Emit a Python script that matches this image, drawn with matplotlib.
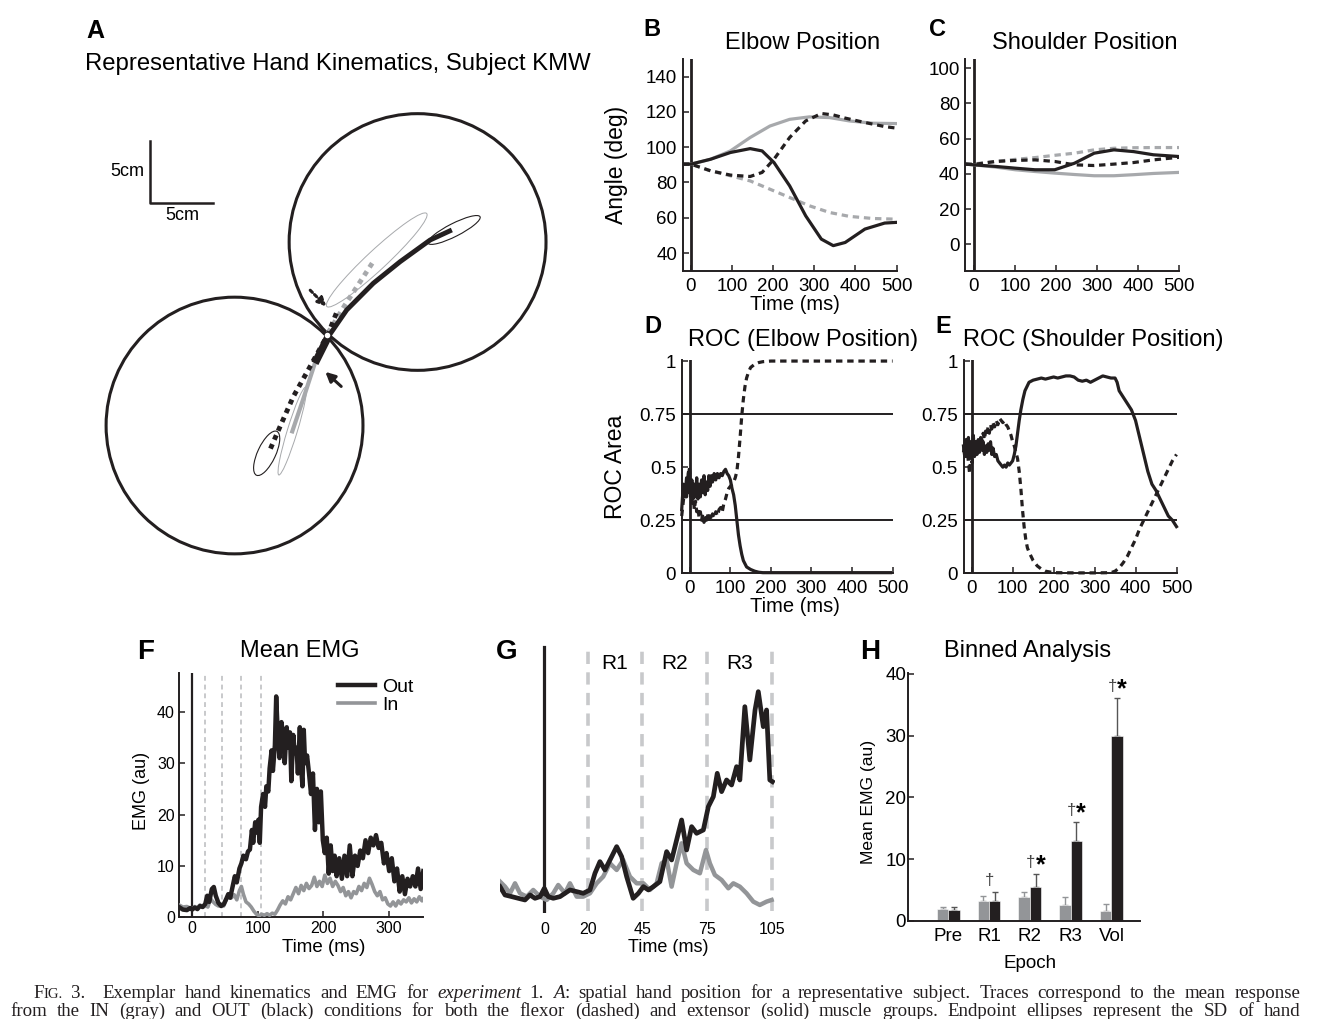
import numpy as np
import matplotlib.pyplot as plt
from matplotlib.patches import Circle, Ellipse

W, H = 1330, 1019
plt.rcParams['font.family'] = ['Liberation Sans', 'DejaVu Sans']

BLACK = '#231f20'
LGRAY = '#a7a9ac'
MGRAY = '#939598'

# ---------------- panel A (cm, origin = start position)
circle_centers = [(-7.45, -7.3), (7.3, 7.5)]
circle_radius = 10.35
out_ext_x = [-0.97, 0.10, 1.59, 3.73, 5.89, 8.31, 10.06]
out_ext_y = [-2.28, -0.14, 2.02, 4.17, 5.91, 7.66, 8.47]
in_ext_x = [-0.97, -1.94, -2.85]
in_ext_y = [-2.26, -5.24, -7.93]
out_flex_x = [0.75, 0.10, -1.37, -2.72, -3.79, -4.60]
out_flex_y = [1.75, 0.10, -2.56, -4.98, -7.40, -9.27]
in_flex_x = [0.08, 1.45, 2.50, 3.71]
in_flex_y = [0.16, 2.42, 4.03, 5.89]
# ellipses: center x, center y, major, minor, angle
ell_gray = [(4.01, 6.05, 11.0, 1.6, 43), (-2.80, -7.75, 7.4, 0.8, 73)]
ell_black = [(10.24, 8.47, 4.7, 1.05, 27), (-4.86, -9.54, 3.9, 1.45, 65)]

# ---------------- panel B / C (deg)
b_t = [-20, 0, 48, 96, 144, 192, 240, 288, 337, 385, 442, 500]
b_in_ext = [90.4, 90.4, 93.2, 97.9, 105.5, 112.0, 115.8, 117.2, 116.8, 114.9, 113.6, 113.4]
b_in_flex = [90.4, 90.4, 86.6, 83.8, 80.9, 76.2, 71.5, 66.8, 63.0, 60.8, 59.6, 59.2]
b_out_t = [-20, 0, 48, 96, 144, 173, 202, 240, 279, 317, 346, 375, 423, 471, 500]
b_out_ext = [90.4, 90.4, 93.2, 97.0, 99.2, 97.9, 91.3, 78.1, 61.1, 47.9, 44.2, 46.0, 53.6, 57.0, 57.4]
b_out_flex = [90.4, 90.4, 86.6, 84.2, 83.4, 85.7, 93.2, 105.5, 114.9, 119.1, 118.3, 116.5, 114.0, 111.7, 110.8]

c_t = [-20, 0, 53, 101, 149, 197, 245, 293, 341, 389, 437, 500]
c_in_ext = [45.5, 45.1, 43.8, 42.3, 41.3, 40.4, 39.6, 38.9, 38.9, 39.5, 40.2, 40.8]
c_out_ext = [45.5, 45.1, 44.2, 43.2, 42.3, 42.3, 46.0, 51.7, 53.6, 52.6, 50.8, 49.8]
c_out_flex = [45.5, 45.3, 47.0, 47.6, 47.9, 47.0, 45.1, 44.7, 45.5, 46.4, 47.9, 49.4]
c_in_flex = [45.5, 45.6, 47.0, 48.2, 49.2, 50.5, 51.7, 53.6, 54.5, 54.8, 54.9, 54.9]

# ---------------- panel D / E (ROC area)
d_ext_t = [-20, -16, -12, -8, -4, -1, 2, 5, 8, 11, 14, 17, 20, 23, 26, 29, 32, 35, 38, 41,
           44, 47, 50, 53, 56, 60, 64, 68, 72, 76, 80, 84, 88, 92, 96, 100, 104, 108, 112, 116,
           120, 124, 128, 132, 136, 140, 150, 160, 170, 180, 250, 350, 450, 495]
d_ext = [0.30, 0.42, 0.36, 0.45, 0.38, 0.49, 0.36, 0.44, 0.35, 0.42, 0.36, 0.45, 0.35, 0.42, 0.36, 0.44, 0.38, 0.46, 0.37, 0.43,
         0.39, 0.46, 0.41, 0.46, 0.43, 0.47, 0.44, 0.47, 0.45, 0.47, 0.46, 0.48, 0.49, 0.47, 0.46, 0.44, 0.40, 0.37, 0.32, 0.25,
         0.18, 0.13, 0.09, 0.06, 0.045, 0.03, 0.018, 0.01, 0.005, 0.003, 0.003, 0.003, 0.003, 0.003]
d_flex_t = [-20, -16, -12, -8, -4, -1, 2, 5, 8, 11, 14, 17, 20, 23, 26, 29, 32, 35, 38, 41,
            44, 47, 50, 53, 56, 60, 64, 68, 72, 76, 80, 84, 88, 92, 96, 100, 104, 108, 112, 116,
            120, 124, 128, 132, 136, 140, 145, 150, 160, 170, 180, 200, 350, 500]
d_flex = [0.27, 0.34, 0.40, 0.36, 0.47, 0.50, 0.40, 0.33, 0.38, 0.30, 0.34, 0.29, 0.31, 0.26, 0.29, 0.25, 0.28, 0.24, 0.27, 0.25,
          0.28, 0.24, 0.27, 0.25, 0.28, 0.26, 0.29, 0.27, 0.30, 0.31, 0.29, 0.33, 0.35, 0.38, 0.40, 0.41, 0.42, 0.43, 0.45, 0.48,
          0.55, 0.64, 0.74, 0.82, 0.88, 0.92, 0.95, 0.97, 0.985, 0.993, 0.997, 1.0, 1.0, 1.0]

e_t = [-20, -17, -14, -11, -8, -5, -2, 1, 4, 7, 10, 13, 16, 19, 22, 25, 28, 31, 34, 37,
       40, 43, 46, 49, 52, 56, 60, 64, 68, 72, 76, 80, 84, 88, 92, 96, 100, 104, 108, 112,
       116, 120]
e_ext_a = [0.60, 0.55, 0.63, 0.56, 0.64, 0.54, 0.62, 0.57, 0.65, 0.55, 0.62, 0.56, 0.63, 0.57, 0.64, 0.58, 0.62, 0.56, 0.60, 0.57,
           0.61, 0.58, 0.62, 0.56, 0.59, 0.55, 0.56, 0.53, 0.52, 0.51, 0.50, 0.51, 0.50, 0.52, 0.51, 0.52, 0.53, 0.56, 0.60, 0.66,
           0.72, 0.77]
e_ext_t2 = [125, 130, 135, 140, 150, 160, 170, 180, 190, 200, 210, 220, 230, 240, 250, 260, 270, 280, 290, 300,
            310, 320, 330, 340, 350, 355, 360, 370, 380, 390, 400, 410, 420, 430, 440, 450, 460, 470, 480, 490, 500]
e_ext_b = [0.82, 0.86, 0.88, 0.90, 0.91, 0.915, 0.92, 0.915, 0.92, 0.925, 0.92, 0.925, 0.93, 0.93, 0.925, 0.91, 0.905, 0.91, 0.90, 0.91,
           0.92, 0.93, 0.925, 0.92, 0.92, 0.90, 0.86, 0.83, 0.80, 0.77, 0.72, 0.64, 0.56, 0.48, 0.42, 0.39, 0.35, 0.31, 0.27, 0.25, 0.22]
e_flex_a = [0.57, 0.62, 0.55, 0.60, 0.52, 0.47, 0.56, 0.52, 0.60, 0.56, 0.61, 0.58, 0.62, 0.60, 0.64, 0.62, 0.66, 0.63, 0.67, 0.65,
            0.69, 0.66, 0.70, 0.68, 0.71, 0.69, 0.72, 0.70, 0.73, 0.72, 0.71, 0.72, 0.70, 0.69, 0.67, 0.65, 0.62, 0.60, 0.57, 0.54,
            0.48, 0.40]
e_flex_t2 = [124, 128, 132, 136, 140, 150, 160, 170, 180, 200, 250, 300, 340, 350, 360, 370, 380, 390, 400, 410,
             420, 430, 440, 450, 460, 470, 480, 490, 500]
e_flex_b = [0.30, 0.22, 0.16, 0.12, 0.10, 0.06, 0.035, 0.02, 0.01, 0.003, 0.002, 0.002, 0.003, 0.01, 0.025, 0.05, 0.08, 0.12, 0.16, 0.21,
            0.25, 0.29, 0.33, 0.37, 0.41, 0.45, 0.49, 0.53, 0.56]

# ---------------- panel F (EMG, au)
f_out_t = [-20, -14, -8, -3, 0, 4, 8, 12, 16, 20, 23, 26, 30, 33, 36, 40, 44, 48, 52, 55,
           58, 62, 65, 68, 72, 75, 78, 82, 85, 88, 91, 93, 96, 98, 101, 103, 105, 108, 111, 113,
           116, 118, 121, 123, 126, 128, 130, 133, 136, 139, 141, 144, 146, 149, 151, 154, 156, 159, 161, 164,
           166, 168, 170, 172, 175, 178, 181, 184, 187, 190, 193, 196, 199, 202, 205, 208, 211, 214, 217, 220,
           224, 228, 232, 236, 240, 244, 248, 252, 256, 260, 264, 268, 272, 276, 280, 284, 288, 292, 296, 300,
           304, 308, 312, 316, 320, 324, 328, 332, 336, 340, 344, 348, 352]
f_out = [2.0, 1.5, 1.4, 1.8, 1.5, 1.9, 1.6, 2.2, 2.0, 2.6, 4.2, 3.0, 5.5, 5.9, 4.2, 2.8, 2.2, 2.5, 3.6, 4.5,
         3.8, 6.2, 8.0, 6.8, 9.5, 10.5, 12.0, 11.3, 12.8, 13.2, 17.0, 14.5, 18.5, 16.5, 19.0, 14.5, 21.5, 24.0, 21.5, 25.5,
         24.5, 29.0, 32.5, 28.5, 33.5, 43.0, 37.0, 31.0, 38.0, 35.0, 30.0, 37.0, 33.0, 36.0, 26.5, 35.5, 32.0, 33.0, 28.0, 37.0,
         29.0, 25.5, 36.5, 30.0, 31.5, 28.0, 24.0, 28.0, 17.0, 25.0, 18.5, 24.5, 15.0, 12.5, 15.5, 8.5, 14.0, 9.0, 12.0, 8.0,
         11.5, 7.5, 12.0, 8.0, 14.0, 8.0, 12.0, 10.0, 13.0, 11.5, 15.0, 12.5, 15.5, 14.0, 16.0, 13.5, 14.5, 10.5, 12.5, 9.0,
         11.5, 7.0, 9.5, 5.0, 8.0, 4.5, 7.5, 6.0, 8.0, 6.0, 9.5, 5.5, 9.0]
f_in_t = [-20, -14, -8, -3, 0, 4, 8, 12, 16, 20, 24, 28, 32, 36, 40, 44, 48, 52, 56, 60,
          64, 68, 72, 75, 78, 82, 86, 90, 94, 98, 102, 106, 110, 114, 118, 122, 126, 130, 134, 138,
          142, 146, 150, 154, 158, 162, 166, 170, 174, 178, 182, 186, 190, 194, 198, 202, 206, 210, 214, 218,
          222, 226, 230, 234, 238, 242, 246, 250, 254, 258, 262, 266, 270, 274, 278, 282, 286, 290, 294, 298,
          302, 306, 310, 314, 318, 322, 326, 330, 334, 338, 342, 346, 350, 352]
f_in = [2.4, 2.0, 2.1, 1.8, 1.6, 2.1, 1.9, 2.4, 2.0, 2.3, 2.0, 3.6, 3.0, 2.5, 2.2, 2.6, 2.2, 3.4, 4.6, 3.8,
        4.4, 3.4, 5.2, 6.0, 4.5, 3.0, 2.6, 2.0, 1.2, 0.6, 0.3, 0.6, 0.4, 0.7, 0.4, 0.8, 0.6, 1.4, 2.4, 3.2,
        2.6, 4.0, 3.4, 4.6, 5.8, 4.6, 6.2, 5.2, 6.6, 5.6, 6.2, 7.8, 6.0, 7.0, 6.0, 8.2, 6.6, 7.6, 6.0, 7.0,
        6.2, 5.0, 5.8, 4.2, 5.0, 3.8, 5.0, 4.6, 6.0, 5.2, 6.6, 5.8, 7.6, 6.4, 5.0, 4.2, 5.0, 3.4, 3.8, 2.6,
        2.2, 3.0, 2.2, 3.2, 2.6, 3.4, 3.0, 3.8, 2.8, 3.6, 3.0, 4.0, 3.2, 3.6]
f_epochs = [20, 45, 75, 105]

# ---------------- panel G (zoomed EMG)
g_out_t = [-20.4, -18.1, -15, -12, -8.9, -6.6, -4.3, -2, 0, 1.8, 4.1, 7.2, 9.5, 11.8, 14.9, 17.9, 21, 23.3, 25.6, 27.9,
           31, 33.3, 35.6, 37.9, 40.9, 43.3, 45.6, 47.9, 50.2, 53.2, 56.3, 58.6, 60.9, 63.2, 65.5, 67.8, 70.1, 73.2, 75.5, 77.8,
           79.6, 81.6, 83.9, 86.2, 88.5, 90, 92.3, 94.6, 97, 98.5, 100.8, 102.3, 103.8, 105]
g_out = [4, 2.75, 2.5, 2.25, 2, 2.75, 2.25, 2.5, 3.75, 2.5, 2.25, 2.5, 3, 3.5, 3.25, 3, 3.5, 6, 7.75, 6.5,
         8.5, 10, 8.5, 5.5, 2.25, 3, 4, 3.5, 4, 4.75, 9.25, 8, 11, 14, 9.5, 13, 12, 12.5, 16, 17.5,
         21, 18.25, 20, 19.25, 22, 20, 31, 23, 30.5, 33.25, 28, 30.5, 20, 19.75]
g_in_t = [-20.4, -18.1, -15.8, -13.5, -11.2, -8.1, -5.1, -2, 1.1, 4.1, 6.4, 9.5, 11.8, 14.9, 17.9, 21, 24.1, 27.1, 30.2, 33.3,
          36.3, 39.4, 42.5, 45.6, 48.6, 51.7, 54, 56.3, 58.6, 60.9, 63.2, 65.5, 68.6, 71.6, 74.4, 76.2, 78.5, 81.6, 84.7, 87,
          90, 93.1, 96.2, 99.2, 102.3, 104.6]
g_in = [4.75, 4, 3, 4.5, 3, 2.5, 3.5, 2.5, 2, 3, 4.25, 3, 4.5, 2.5, 2.5, 3, 4.5, 5.5, 7.5, 6.5,
        8, 5.5, 4.5, 4.5, 3.5, 4.5, 7.5, 8, 4, 7.5, 10.5, 7.5, 6.5, 6, 9.5, 7.5, 5.75, 5, 3.75, 4.5,
        4, 3, 1.75, 1.25, 1.75, 2]
g_ticks = [0, 20, 45, 75, 105]
g_regions = ['R1', 'R2', 'R3']

# ---------------- panel H (binned)
h_epochs = ['Pre', 'R1', 'R2', 'R3', 'Vol']
h_in = [1.9, 3.19, 3.84, 2.6, 1.62]
h_in_err = [0.37, 0.81, 0.82, 1.24, 1.03]
h_out = [1.73, 3.19, 5.47, 12.94, 30.0]
h_out_err = [0.54, 1.47, 2.11, 3.06, 6.1]
h_marks = ['', '\u2020', '\u2020*', '\u2020*', '\u2020*']

# ---------------- caption (word, style, size factor); '+' glues to previous word
caption1 = [('F', 'normal', 1.0), ('+IG.', 'normal', 0.78), ('3.', 'normal', 1.0), ('', 'normal', 1.0),
            ('Exemplar', 'normal', 1.0)] + \
    [(w, 'normal', 1.0) for w in 'hand kinematics and EMG for'.split()] + \
    [('experiment', 'italic', 1.0), ('1.', 'normal', 1.0), ('A', 'italic', 1.0), ('+:', 'normal', 1.0)] + \
    [(w, 'normal', 1.0) for w in ('spatial hand position for a representative subject. '
                                  'Traces correspond to the mean response').split()]
caption2 = [(w, 'normal', 1.0) for w in ('from the IN (gray) and OUT (black) conditions for both the flexor '
                                         '(dashed) and extensor (solid) muscle groups. Endpoint ellipses '
                                         'represent the SD of hand').split()]

fig = plt.figure(figsize=(W / 100, H / 100), dpi=100)


def px_axes(l, t, r, b):
    return fig.add_axes([l / W, 1 - b / H, (r - l) / W, (b - t) / H])


def ftext(x, y, s, **kw):
    kw.setdefault('ha', 'center')
    kw.setdefault('va', 'center')
    return fig.text(x / W, 1 - y / H, s, **kw)


def style(ax, size=13.5, padx=5, pady=4):
    for s in ['top', 'right']:
        ax.spines[s].set_visible(False)
    for s in ['left', 'bottom']:
        ax.spines[s].set_linewidth(1.4)
        ax.spines[s].set_color(BLACK)
    ax.tick_params(direction='in', length=4, width=1.1, labelsize=size, color=BLACK)
    ax.tick_params(axis='x', pad=padx)
    ax.tick_params(axis='y', pad=pady)


dash = (0, (2, 1.5))

# ---- A
axA = px_axes(85, 95, 600, 560)
axA.set_xlim(-19.5, 22.0)
axA.set_ylim((335 - 560) / 12.4, (335 - 95) / 12.4)
axA.axis('off')
for cx, cy in circle_centers:
    axA.add_patch(Circle((cx, cy), circle_radius, fill=False, lw=2.2, ec=BLACK))
for cx, cy, a, b, ang in ell_gray:
    axA.add_patch(Ellipse((cx, cy), a, b, angle=ang, fill=False, lw=0.7, ec=LGRAY))
for cx, cy, a, b, ang in ell_black:
    axA.add_patch(Ellipse((cx, cy), a, b, angle=ang, fill=False, lw=0.8, ec=BLACK))
axA.plot(in_ext_x, in_ext_y, color=LGRAY, lw=3, solid_capstyle='butt')
axA.plot(in_flex_x, in_flex_y, color=LGRAY, lw=3.5, ls=(0, (1, 1)))
axA.plot(out_flex_x, out_flex_y, color=BLACK, lw=3.5, ls=(0, (1, 1)))
axA.plot(out_ext_x[:2], out_ext_y[:2], color=BLACK, lw=5.5, solid_capstyle='butt')
axA.plot(out_ext_x[1:], out_ext_y[1:], color=BLACK, lw=3.5, solid_capstyle='butt')
axA.annotate('', xy=(-0.30, -2.82), xytext=(1.31, -4.30),
             arrowprops=dict(arrowstyle='-|>', color=BLACK, lw=2.2, mutation_scale=14))
axA.annotate('', xy=(0.10, 2.15), xytext=(-1.51, 3.77),
             arrowprops=dict(arrowstyle='-|>', color=BLACK, lw=2.2, ls=(0, (1, 1)), mutation_scale=12))
axA.plot([0], [0], 'o', ms=4, mfc='white', mec='none')
# scale bar
axA.plot([-14.27, -14.27, -9.19], [15.65, 10.65, 10.65], color=BLACK, lw=1.8)
ftext(95, 31, 'A', fontsize=18, fontweight='bold')
ftext(85, 64, 'Representative Hand Kinematics, Subject KMW', fontsize=17.2, ha='left')
ftext(127, 172, '5cm', fontsize=13)
ftext(182, 215, '5cm', fontsize=13)

# ---- B
axB = px_axes(682.7, 59, 896.6, 270.7)
style(axB)
axB.axvline(0, color=BLACK, lw=2)
axB.plot(b_t, b_in_ext, color=LGRAY, lw=2.3)
axB.plot(b_t, b_in_flex, color=LGRAY, lw=2.3, ls=dash)
axB.plot(b_out_t, b_out_ext, color=BLACK, lw=2.3)
axB.plot(b_out_t, b_out_flex, color=BLACK, lw=2.3, ls=dash)
axB.set_xlim(-20, 500)
axB.set_ylim(30, 150)
axB.set_xticks([0, 100, 200, 300, 400, 500])
axB.set_yticks([40, 60, 80, 100, 120, 140])
ftext(652, 30, 'B', fontsize=17, fontweight='bold')
ftext(803, 43, 'Elbow Position', fontsize=17)
ftext(616, 165, 'Angle (deg)', fontsize=16.5, rotation=90)
ftext(795, 305, 'Time (ms)', fontsize=14.5)

# ---- C
axC = px_axes(965.5, 59.3, 1179.3, 270.7)
style(axC)
axC.axvline(0, color=BLACK, lw=2)
axC.plot(c_t, c_in_ext, color=LGRAY, lw=2.3)
axC.plot(c_t, c_in_flex, color=LGRAY, lw=2.3, ls=dash)
axC.plot(c_t, c_out_ext, color=BLACK, lw=2.3)
axC.plot(c_t, c_out_flex, color=BLACK, lw=2.3, ls=dash)
axC.set_xlim(-20, 500)
axC.set_ylim(-15, 105)
axC.set_xticks([0, 100, 200, 300, 400, 500])
axC.set_yticks([0, 20, 40, 60, 80, 100])
ftext(938, 30, 'C', fontsize=17, fontweight='bold')
ftext(1085, 43, 'Shoulder Position', fontsize=17)

# ---- D / E
roc_ticks = [0, 0.25, 0.5, 0.75, 1]
roc_labels = ['0', '0.25', '0.5', '0.75', '1']
axD = px_axes(681.7, 360, 892.6, 573.3)
axE = px_axes(963.5, 360, 1176.5, 573.3)
for ax in (axD, axE):
    style(ax)
    ax.axvline(0, color=BLACK, lw=2)
    ax.axhline(0.25, color=BLACK, lw=1.4)
    ax.axhline(0.75, color=BLACK, lw=1.4)
    ax.set_xlim(-20, 500)
    ax.set_ylim(0, 1.005)
    ax.set_xticks([0, 100, 200, 300, 400, 500])
    ax.set_yticks(roc_ticks)
    ax.set_yticklabels(roc_labels)
axD.plot(d_ext_t, d_ext, color=BLACK, lw=2.3, clip_on=False)
axD.plot(d_flex_t, d_flex, color=BLACK, lw=2.3, ls=dash, clip_on=False)
axE.plot(e_t + e_ext_t2, e_ext_a + e_ext_b, color=BLACK, lw=2.3, clip_on=False)
axE.plot(e_t + e_flex_t2, e_flex_a + e_flex_b, color=BLACK, lw=2.3, ls=dash, clip_on=False)
ftext(653, 327, 'D', fontsize=17, fontweight='bold')
ftext(943, 327, 'E', fontsize=17, fontweight='bold')
ftext(803, 340, 'ROC (Elbow Position)', fontsize=17)
ftext(1093, 340, 'ROC (Shoulder Position)', fontsize=17)
ftext(616, 467, 'ROC Area', fontsize=16.5, rotation=90)
ftext(795, 607, 'Time (ms)', fontsize=14.5)

# ---- F
axF = px_axes(179, 673.3, 423.3, 917.3)
style(axF, size=11.5, padx=3, pady=3)
for e in f_epochs:
    axF.axvline(e, color='#c8c9cb', lw=1.4, ls=(0, (2.5, 2)))
axF.axvline(0, color=BLACK, lw=1.6)
axF.plot(f_in_t, f_in, color=MGRAY, lw=2.6, label='In', zorder=3)
axF.plot(f_out_t, f_out, color=BLACK, lw=3.2, label='Out', zorder=4)
axF.set_xlim(-20, 352)
axF.set_ylim(0, 47.5)
axF.set_xticks([0, 100, 200, 300])
axF.set_yticks([0, 10, 20, 30, 40])
hs, ls_ = axF.get_legend_handles_labels()
axF.legend(hs[::-1], ls_[::-1], loc='upper left', bbox_to_anchor=(338 / W, 1 - 678 / H),
           bbox_transform=fig.transFigure, frameon=False, fontsize=14, handlelength=1.9,
           handletextpad=0.35, borderpad=0, borderaxespad=0, labelspacing=0.05)
ftext(146, 652, 'F', fontsize=20, fontweight='bold')
ftext(300, 651, 'Mean EMG', fontsize=17)
ftext(142, 791, 'EMG (au)', fontsize=13, rotation=90)
ftext(324, 947, 'Time (ms)', fontsize=13.5)

# ---- G
axG = px_axes(499.8, 645, 774.6, 913.3)
for s in axG.spines.values():
    s.set_visible(False)
axG.set_yticks([])
axG.set_xticks(g_ticks)
axG.tick_params(axis='x', length=0, labelsize=11.5, pad=6)
for e in g_ticks[1:]:
    axG.axvline(e, ymin=0.01, color='#c8c9cb', lw=2.6, ls=(0, (3.4, 2.3)))
axG.axvline(0, ymin=0.0, ymax=0.994, color=BLACK, lw=2.3)
axG.plot(g_in_t, g_in, color=MGRAY, lw=3.2, zorder=3)
axG.plot(g_out_t, g_out, color=BLACK, lw=3.4, zorder=4)
axG.set_xlim(-20.5, 106)
axG.set_ylim(0, 40.25)
for i, r in enumerate(g_regions):
    axG.text((g_ticks[i + 1] + g_ticks[i + 2]) / 2, 37.4, r, fontsize=15, ha='center', va='center')
ftext(507, 652, 'G', fontsize=20, fontweight='bold')
ftext(668, 947, 'Time (ms)', fontsize=13)

# ---- H
axH = px_axes(908.3, 673.3, 1140, 920.7)
style(axH, size=13.5, padx=5, pady=1.5)
x = np.arange(1, len(h_epochs) + 1)
bw = 0.28
axH.bar(x - bw / 2, h_in, bw, color=MGRAY, edgecolor='white', lw=0.4, zorder=2)
axH.bar(x + bw / 2, h_out, bw, color=BLACK, edgecolor='white', lw=0.4, zorder=2)
axH.errorbar(x - bw / 2, h_in, yerr=[np.zeros(5), h_in_err], fmt='none', ecolor=MGRAY,
             elinewidth=1.0, capsize=2, capthick=1.0, zorder=1)
axH.errorbar(x + bw / 2, h_out, yerr=[np.zeros(5), h_out_err], fmt='none', ecolor='#555555',
             elinewidth=1.0, capsize=2, capthick=1.0, zorder=1)
for xi, m, top in zip(x, h_marks, np.array(h_out) + np.array(h_out_err)):
    if '\u2020' in m:
        axH.text(xi + 0.02, top + 1.9, '\u2020', fontsize=12, ha='center', va='center', color='#444444')
    if '*' in m:
        axH.text(xi + 0.26, top + 1.4, '*', fontsize=18, fontweight='bold', ha='center', va='center')
axH.set_xlim(0.02, 5.7)
axH.set_ylim(0, 40.1)
axH.set_xticks(x)
axH.set_xticklabels(h_epochs)
axH.tick_params(axis='x', length=0)
axH.set_yticks([0, 10, 20, 30, 40])
ftext(870, 652, 'H', fontsize=20, fontweight='bold')
ftext(1028, 651, 'Binned Analysis', fontsize=17)
ftext(868, 802, 'Mean EMG (au)', fontsize=12.6, rotation=90)
ftext(1030, 963, 'Epoch', fontsize=13.5)

# ---- caption, justified between x0 and x1
serif = ['Liberation Serif', 'DejaVu Serif']


def caption_line(words, x0, x1, y, size):
    fig.canvas.draw()
    r = fig.canvas.get_renderer()
    groups = []
    for w, st, f in words:
        if w.startswith('+') and groups:
            groups[-1].append((w[1:], st, f))
        else:
            groups.append([(w, st, f)])
    widths = []
    for g in groups:
        gw = []
        for s, st, f in g:
            t = fig.text(0, 0, s if s else ' ', fontsize=size * f, style=st, family=serif)
            gw.append(t.get_window_extent(r).width if s else 0)
            t.remove()
        widths.append(gw)
    gap = (x1 - x0 - sum(sum(gw) for gw in widths)) / (len(groups) - 1)
    x = x0
    for g, gw in zip(groups, widths):
        for (s, st, f), w in zip(g, gw):
            if s:
                fig.text(x / W, 1 - y / H, s, fontsize=size * f, style=st, family=serif,
                         ha='left', va='baseline', color='#231f20')
            x += w
        x += gap


caption_line(caption1, 33, 1300, 998.5, 13.6)
caption_line(caption2, 10, 1300, 1015.5, 13.6)

fig.savefig('out.png', dpi=100)
